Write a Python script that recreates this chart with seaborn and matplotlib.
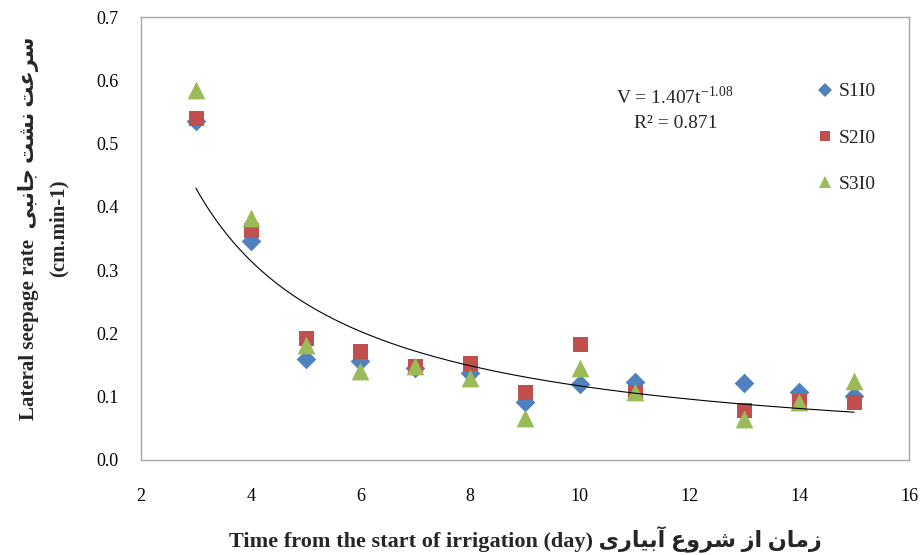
import numpy as np
import pandas as pd
import matplotlib
matplotlib.use("Agg")
import matplotlib.pyplot as plt
import seaborn as sns
from matplotlib.lines import Line2D
from matplotlib.ticker import FormatStrFormatter

# ---- data ----
days = [3, 4, 5, 6, 7, 8, 9, 10, 11, 13, 14, 15]
s1i0 = [0.535, 0.346, 0.160, 0.157, 0.145, 0.138, 0.091, 0.120, 0.123, 0.122, 0.107, 0.101]
s2i0 = [0.540, 0.363, 0.193, 0.172, 0.148, 0.153, 0.107, 0.183, 0.107, 0.079, 0.093, 0.091]
s3i0 = [0.585, 0.383, 0.181, 0.141, 0.149, 0.130, 0.067, 0.146, 0.107, 0.065, 0.092, 0.125]
series_names = ["S1I0", "S2I0", "S3I0"]
# power trendline as printed on the chart: V = a * t^b
fit_a = 1.407
fit_b = -1.08
fit_r2 = 0.871
fit_range = [3, 15]
x_ticks = [2, 4, 6, 8, 10, 12, 14, 16]
y_ticks = [0.0, 0.1, 0.2, 0.3, 0.4, 0.5, 0.6, 0.7]

# Persian text written in visual order with Arabic presentation forms
fa_xlabel = ("\uFEEF\uFEAD\uFE8E\uFEF4\uFE91\uFE81 "   # آبیاری
             "\uFEC9\uFEED\uFEAE\uFEB7 "              # شروع
             "\uFEAF\uFE8D "                          # از
             "\uFEE5\uFE8E\uFEE3\uFEAF")              # زمان
fa_ylabel = ("\uFEF0\uFE92\uFEE7\uFE8E\uFE9F "        # جانبی
             "\uFE96\uFEB8\uFEE7 "                    # نشت
             "\uFE96\uFECB\uFEAE\uFEB3")              # سرعت
xlabel_text = "Time from the start of irrigation (day) " + fa_xlabel
ylabel_text = "Lateral seepage rate  " + fa_ylabel + "\n(cm.min-1)"

df = pd.DataFrame({
    "day": days * 3,
    "rate": s1i0 + s2i0 + s3i0,
    "series": [series_names[0]] * len(days) + [series_names[1]] * len(days) + [series_names[2]] * len(days),
})

sns.set_theme(style="white")
fam = ["Liberation Serif", "DejaVu Sans"]
plt.rcParams["font.family"] = fam
plt.rcParams["mathtext.fontset"] = "custom"
plt.rcParams["mathtext.rm"] = "Liberation Serif"

colors = {"S1I0": "#4F81BD", "S2I0": "#C0504D", "S3I0": "#9BBB59"}
markers = {"S1I0": "D", "S2I0": "s", "S3I0": "^"}
sizes = {"S1I0": 10.0 ** 2, "S2I0": 10.8 ** 2, "S3I0": 12.8 ** 2}

fig = plt.figure(figsize=(9.21, 5.55), dpi=100)
ax = fig.add_axes([141 / 921, 1 - 460 / 555, (909 - 141) / 921, (460 - 17) / 555])

for name in series_names:
    sub = df[df["series"] == name]
    sns.scatterplot(data=sub, x="day", y="rate", ax=ax, marker=markers[name],
                    color=colors[name], s=sizes[name], linewidth=0, zorder=3,
                    legend=False)

t = np.linspace(fit_range[0], fit_range[1], 300)
sns.lineplot(x=t, y=fit_a * t ** fit_b, ax=ax, color="black", linewidth=0.8,
             zorder=4, legend=False)

ax.set_xlim(x_ticks[0], x_ticks[-1])
ax.set_ylim(y_ticks[0], y_ticks[-1])
ax.set_xticks(x_ticks)
ax.set_yticks(y_ticks)
ax.yaxis.set_major_formatter(FormatStrFormatter("%.1f"))
for sp in ax.spines.values():
    sp.set_color("#A6A6A6")
    sp.set_linewidth(1.0)
ax.tick_params(axis="both", direction="out", length=5, width=1.0,
               color="#A6A6A6", labelsize=13, labelcolor="black")
ax.tick_params(axis="y", pad=11)
ax.tick_params(axis="x", pad=15)
ax.grid(False)

ax.set_xlabel(xlabel_text, fontsize=16, fontweight="bold", family=fam, labelpad=15)
ax.set_ylabel(ylabel_text, fontsize=15, fontweight="bold", family=fam,
              multialignment="center", linespacing=1.65)
ax.yaxis.set_label_coords(-0.094, 0.524)

fig.text(675 / 921, 1 - 97 / 555, "V = 1.407t$^{\\mathregular{-1.08}}$",
         ha="center", va="center", fontsize=14, family=fam)
fig.text(676 / 921, 1 - 123 / 555, "R\u00b2 = 0.871", ha="center", va="center",
         fontsize=14, family=fam)

handles = [Line2D([], [], linestyle="none", marker=markers[n], color=colors[n],
                  markersize=7 if n != "S3I0" else 8, markeredgewidth=0)
           for n in series_names]
ax.legend(handles, series_names, loc="upper left",
          bbox_to_anchor=(807 / 921, 1 - 73 / 555), bbox_transform=fig.transFigure,
          frameon=False, handlelength=0.8, handletextpad=0.35,
          labelspacing=1.47, borderpad=0, prop={"family": fam, "size": 14})

fig.savefig("out.png", dpi=100, facecolor="white")
